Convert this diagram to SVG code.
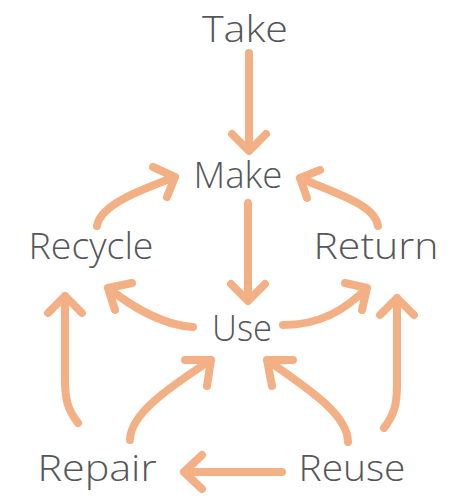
<svg xmlns="http://www.w3.org/2000/svg" width="461" height="498" viewBox="0 0 461 498">
<style>
.lbl{font-family:"Open Sans","Liberation Sans",sans-serif;font-weight:300;font-size:36px;fill:#545659;text-anchor:middle}
.c{fill:none;stroke:#F2B084;stroke-width:8;stroke-linecap:round;stroke-linejoin:round}
</style>
<rect width="461" height="498" fill="#fff"/>
<g id="connectors">
<path class="c" d="M249,53 L249,150 M232,134 L249,151 L266,134"/>
<path class="c" d="M248,203 L248,300 M231,284 L248,301 L265,284"/>
<path class="c" d="M97,226 C100,205 140,190 175,177 M153,167 L175,177 L167,197"/>
<path class="c" d="M193,327 C160,325 130,305 108,288 M132,283 L108,288 L115,310"/>
<path class="c" d="M378,226 C375,205 340,195 300,178 M320,170 L300,178 L307,198"/>
<path class="c" d="M283,325 C320,325 345,310 367,288 M345,283 L367,288 L362,310"/>
<path class="c" d="M78,423 C68,410 65,400 65,380 L65,296 M48,313 L65,296 L82,313"/>
<path class="c" d="M384,428 C394,415 397,405 397,385 L397,298 M380,315 L397,298 L414,315"/>
<path class="c" d="M130,440 C130,415 165,390 211,360 M185,360 L211,360 L207,386"/>
<path class="c" d="M348,442 C348,415 310,390 267,360 M293,360 L267,360 L272,386"/>
<path class="c" d="M282,472 L184,472 M202,455 L184,472 L202,489"/>
</g>
<g id="take"><text class="lbl" x="245" y="42" textLength="86" lengthAdjust="spacingAndGlyphs">Take</text></g>
<g id="make"><text class="lbl" x="238" y="188" textLength="89" lengthAdjust="spacingAndGlyphs">Make</text></g>
<g id="recycle"><text class="lbl" x="91" y="259" textLength="125" lengthAdjust="spacingAndGlyphs">Recycle</text></g>
<g id="return"><text class="lbl" x="376" y="259" textLength="125" lengthAdjust="spacingAndGlyphs">Return</text></g>
<g id="use"><text class="lbl" x="242" y="341" textLength="60" lengthAdjust="spacingAndGlyphs">Use</text></g>
<g id="repair"><text class="lbl" x="97" y="481" textLength="119" lengthAdjust="spacingAndGlyphs">Repair</text></g>
<g id="reuse"><text class="lbl" x="352" y="481" textLength="107" lengthAdjust="spacingAndGlyphs">Reuse</text></g>
</svg>
